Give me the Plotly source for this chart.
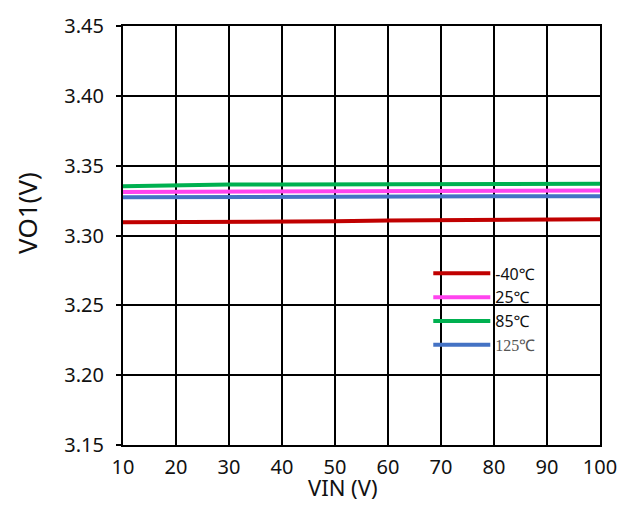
import plotly.graph_objects as go

vin = [10, 20, 30, 40, 50, 60, 70, 80, 90, 100]
vo_m40 = [3.3094, 3.3095, 3.3100, 3.3101, 3.3102, 3.3107, 3.3109, 3.3110, 3.3114, 3.3116]
vo_25 = [3.3311, 3.3313, 3.3316, 3.3318, 3.3319, 3.3320, 3.3321, 3.3322, 3.3323, 3.3323]
vo_85 = [3.3352, 3.3360, 3.3365, 3.3366, 3.3367, 3.3368, 3.3369, 3.3372, 3.3371, 3.3370]
vo_125 = [3.3274, 3.3276, 3.3278, 3.3279, 3.3279, 3.3280, 3.3280, 3.3281, 3.3281, 3.3281]

series = [
    ("-40℃", vo_m40, "#c00000"),
    ("25℃", vo_25, "#ff44ee"),
    ("85℃", vo_85, "#00b050"),
    ("<span style='font-family:Liberation Serif;color:#555'>125℃</span>", vo_125, "#4472c4"),
]

fig = go.Figure()
for name, ys, col in series:
    fig.add_trace(go.Scatter(x=vin, y=ys, mode="lines", name=name,
                             line=dict(color=col, width=4)))

fig.update_layout(
    width=632, height=505,
    margin=dict(l=123, r=32, t=20, b=60),
    paper_bgcolor="white", plot_bgcolor="white",
    font=dict(family="Noto Sans, Open Sans, sans-serif", color="#111", size=20),
    showlegend=True,
    legend=dict(x=0.64, y=0.45, xanchor="left", yanchor="top",
                bgcolor="rgba(0,0,0,0)", font=dict(size=16, color="#111"),
                itemwidth=57, tracegroupgap=0),
    xaxis=dict(range=[10, 100], tickvals=vin, showgrid=True, gridcolor="black",
               gridwidth=2, showline=True, linecolor="black", linewidth=2,
               mirror=True, zeroline=False, ticks="", ticklabelstandoff=3),
    yaxis=dict(range=[3.15, 3.45], tickvals=[3.15, 3.20, 3.25, 3.30, 3.35, 3.40, 3.45],
               tickformat=".2f", showgrid=True, gridcolor="black", gridwidth=2,
               showline=True, linecolor="black", linewidth=2, mirror=True,
               zeroline=False, ticks="outside", ticklen=5, tickwidth=2,
               tickcolor="black", ticklabelstandoff=8),
    annotations=[
        dict(text="VIN (V)", xref="paper", yref="paper", x=(343 - 123) / 477, y=-60 / 425,
             xanchor="center", yanchor="bottom", showarrow=False, font=dict(size=22)),
        dict(text="VO1(V)", xref="paper", yref="paper", x=-0.2, y=(445 - 210) / 425,
             xanchor="center", yanchor="middle", showarrow=False, textangle=-90,
             font=dict(size=26)),
    ],
)

fig.write_html("out.html")
